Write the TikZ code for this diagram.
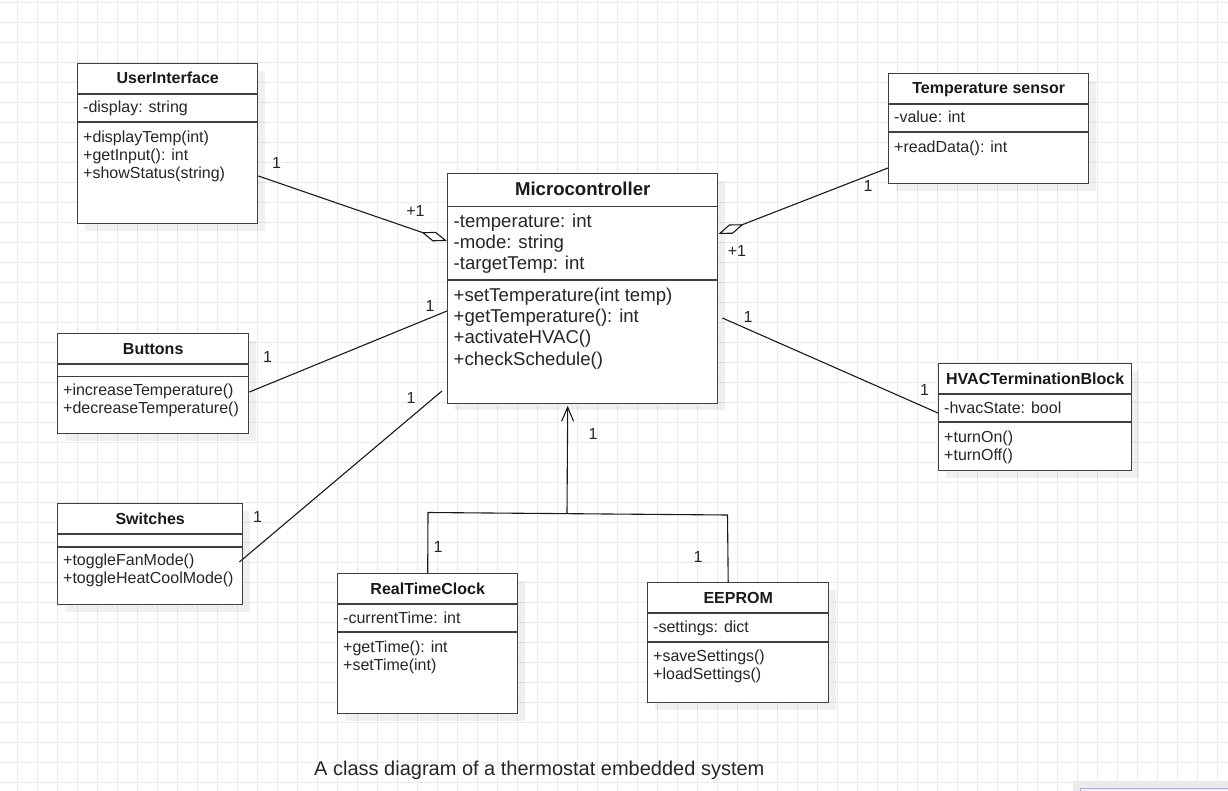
\documentclass[tikz,border=0pt]{standalone}
\usepackage{fontspec}
\setmainfont{Liberation Sans}
\usetikzlibrary{arrows.meta,shadows}

\tikzset{
  gridline/.style={draw=black!8, line width=1pt},
  classbox/.style={draw=black!75, line width=1.4pt, fill=white, anchor=north west, inner sep=0pt,
    drop shadow={shadow xshift=7pt, shadow yshift=-7pt, fill=black, opacity=0.06}},
  classline/.style={draw=black!75, line width=1.4pt},
  classname/.style={font=\bfseries\fontsize{16}{18}\selectfont, text=black!90, anchor=base, inner sep=0pt},
  member/.style={font=\fontsize{16}{18}\selectfont, text=black!85, anchor=base west, inner sep=0pt},
  bigname/.style={classname, font=\bfseries\fontsize{18.6}{21}\selectfont},
  bigmember/.style={member, font=\fontsize{18.6}{21}\selectfont},
  assoc/.style={draw=black!90, line width=1.1pt},
  mult/.style={font=\fontsize{16}{18}\selectfont, text=black!85, inner sep=0pt},
}

\begin{document}
\begin{tikzpicture}[x=1pt, y=-1pt]
  \useasboundingbox (0,0) rectangle (1228,791);
  % background grid
  \foreach \gx in {17.5,37.5,...,1227.5}
    \draw[gridline] (\gx,0) -- (\gx,791);
  \foreach \gy in {2.5,22.5,...,790}
    \draw[gridline] (0,\gy) -- (1228,\gy);

  % UserInterface
  \node[classbox, minimum width=180, minimum height=160] (ui) at (77,63) {};
  \draw[classline] ([yshift=-31pt]ui.north west) -- ([yshift=-31pt]ui.north east);
  \draw[classline] ([yshift=-59pt]ui.north west) -- ([yshift=-59pt]ui.north east);
  \node[classname] (ui-name) at ([yshift=-21pt]ui.north) {UserInterface};
  \node[member] (ui-a1) at ([xshift=6pt,yshift=-50pt]ui.north west) {-display: string};
  \foreach \txt [count=\i] in {+displayTemp(int), +getInput(): int, +showStatus(string)}
    \node[member] (ui-m\i) at ([xshift=6pt,yshift=-62pt-18pt*\i]ui.north west) {\txt};

  % Temperature sensor
  \node[classbox, minimum width=200, minimum height=110] (ts) at (888,73) {};
  \draw[classline] ([yshift=-31pt]ts.north west) -- ([yshift=-31pt]ts.north east);
  \draw[classline] ([yshift=-59pt]ts.north west) -- ([yshift=-59pt]ts.north east);
  \node[classname] (ts-name) at ([yshift=-21pt]ts.north) {Temperature sensor};
  \node[member] (ts-a1) at ([xshift=6pt,yshift=-50pt]ts.north west) {-value: int};
  \node[member] (ts-m1) at ([xshift=6pt,yshift=-80pt]ts.north west) {+readData(): int};

  % Microcontroller
  \node[classbox, minimum width=270, minimum height=229.5] (mc) at (447,173) {};
  \draw[classline] ([yshift=-33.5pt]mc.north west) -- ([yshift=-33.5pt]mc.north east);
  \draw[classline] ([yshift=-107pt]mc.north west) -- ([yshift=-107pt]mc.north east);
  \node[bigname] (mc-name) at ([yshift=-23pt]mc.north) {Microcontroller};
  \foreach \txt [count=\i] in {-temperature: int, -mode: string, -targetTemp: int}
    \node[bigmember] (mc-a\i) at ([xshift=6.5pt,yshift=-34pt-21pt*\i]mc.north west) {\txt};
  \foreach \txt [count=\i] in {+setTemperature(int temp), +getTemperature(): int, +activateHVAC(), +checkSchedule()}
    \node[bigmember] (mc-m\i) at ([xshift=6.5pt,yshift=-108pt-21pt*\i]mc.north west) {\txt};

  % Buttons
  \node[classbox, minimum width=191, minimum height=100] (bt) at (57,333) {};
  \draw[classline] ([yshift=-31pt]bt.north west) -- ([yshift=-31pt]bt.north east);
  \draw[classline] ([yshift=-43.5pt]bt.north west) -- ([yshift=-43.5pt]bt.north east);
  \node[classname] (bt-name) at ([yshift=-21pt]bt.north) {Buttons};
  \foreach \txt [count=\i] in {+increaseTemperature(), +decreaseTemperature()}
    \node[member] (bt-m\i) at ([xshift=6pt,yshift=-44pt-18pt*\i]bt.north west) {\txt};

  % Switches
  \node[classbox, minimum width=185, minimum height=101] (sw) at (57,503) {};
  \draw[classline] ([yshift=-31pt]sw.north west) -- ([yshift=-31pt]sw.north east);
  \draw[classline] ([yshift=-44pt]sw.north west) -- ([yshift=-44pt]sw.north east);
  \node[classname] (sw-name) at ([yshift=-21pt]sw.north) {Switches};
  \foreach \txt [count=\i] in {+toggleFanMode(), +toggleHeatCoolMode()}
    \node[member] (sw-m\i) at ([xshift=6pt,yshift=-44pt-18pt*\i]sw.north west) {\txt};

  % HVACTerminationBlock
  \node[classbox, minimum width=193, minimum height=107] (hv) at (938,363) {};
  \draw[classline] ([yshift=-31pt]hv.north west) -- ([yshift=-31pt]hv.north east);
  \draw[classline] ([yshift=-59pt]hv.north west) -- ([yshift=-59pt]hv.north east);
  \node[classname] (hv-name) at ([yshift=-21pt]hv.north) {HVACTerminationBlock};
  \node[member] (hv-a1) at ([xshift=6pt,yshift=-50pt]hv.north west) {-hvacState: bool};
  \foreach \txt [count=\i] in {+turnOn(), +turnOff()}
    \node[member] (hv-m\i) at ([xshift=6pt,yshift=-61pt-18pt*\i]hv.north west) {\txt};

  % RealTimeClock
  \node[classbox, minimum width=180, minimum height=140] (rtc) at (337,573) {};
  \draw[classline] ([yshift=-31pt]rtc.north west) -- ([yshift=-31pt]rtc.north east);
  \draw[classline] ([yshift=-59pt]rtc.north west) -- ([yshift=-59pt]rtc.north east);
  \node[classname] (rtc-name) at ([yshift=-21pt]rtc.north) {RealTimeClock};
  \node[member] (rtc-a1) at ([xshift=6pt,yshift=-50pt]rtc.north west) {-currentTime: int};
  \foreach \txt [count=\i] in {+getTime(): int, +setTime(int)}
    \node[member] (rtc-m\i) at ([xshift=6pt,yshift=-61pt-18pt*\i]rtc.north west) {\txt};

  % EEPROM
  \node[classbox, minimum width=181, minimum height=120] (ee) at (647,582) {};
  \draw[classline] ([yshift=-31pt]ee.north west) -- ([yshift=-31pt]ee.north east);
  \draw[classline] ([yshift=-60pt]ee.north west) -- ([yshift=-60pt]ee.north east);
  \node[classname] (ee-name) at ([yshift=-21pt]ee.north) {EEPROM};
  \node[member] (ee-a1) at ([xshift=6pt,yshift=-50pt]ee.north west) {-settings: dict};
  \foreach \txt [count=\i] in {+saveSettings(), +loadSettings()}
    \node[member] (ee-m\i) at ([xshift=6pt,yshift=-61pt-18pt*\i]ee.north west) {\txt};

  % connectors
  \draw[assoc, -{Diamond[open, length=27pt, width=10pt]}]
    ([yshift=-113pt]ui.north east) -- ([yshift=-68pt]mc.north west);
  \draw[assoc, -{Diamond[open, length=27pt, width=10pt]}]
    ([yshift=-95pt]ts.north west) -- ([yshift=-61pt]mc.north east);
  \draw[assoc] ([yshift=-59pt]bt.north east) -- ([yshift=-138pt]mc.north west);
  \draw[assoc] ([xshift=-4pt,yshift=-59pt]sw.north east) -- ([xshift=-5pt,yshift=-218pt]mc.north west);
  \draw[assoc] ([xshift=4pt,yshift=-145pt]mc.north east) -- ([yshift=-50pt]hv.north west);

  \coordinate (bus) at (567,513.5);
  \coordinate (bus-l) at (428,512.5);
  \coordinate (bus-r) at (727.5,515);
  \coordinate (mc-in) at ([xshift=-15pt,yshift=-2pt]mc.south);
  \draw[assoc] (rtc.north) -- (bus-l) -- (bus-r) -- ([xshift=-10pt]ee.north);
  \draw[assoc, -{Straight Barb[length=14pt, width=12pt]}] (bus) -- (mc-in);

  % multiplicities
  \node[mult] (m-ui) at (276.5,163) {1};
  \node[mult] (m-ui-mc) at (415.5,211) {+1};
  \node[mult] (m-ts) at (868,186) {1};
  \node[mult] (m-ts-mc) at (737,250.5) {+1};
  \node[mult] (m-bt) at (267.5,356.5) {1};
  \node[mult] (m-bt-mc) at (430,305.5) {1};
  \node[mult] (m-sw) at (257.5,516.5) {1};
  \node[mult] (m-sw-mc) at (411,398) {1};
  \node[mult] (m-mc-hv) at (748,317) {1};
  \node[mult] (m-hv) at (924.5,390) {1};
  \node[mult] (m-bus) at (593,433.5) {1};
  \node[mult] (m-rtc) at (438,547) {1};
  \node[mult] (m-ee) at (698,556.5) {1};

  % caption
  \node[member, font=\fontsize{20}{24}\selectfont] (caption) at (314,775) {A class diagram of a thermostat embedded system};

  % edge of a panel in the corner
  \fill[black!8] (1073,780.5) rectangle (1228,791);
  \filldraw[fill=blue!5, draw=blue!35, line width=1pt] (1080,788.5) rectangle (1240,800);
\end{tikzpicture}
\end{document}
